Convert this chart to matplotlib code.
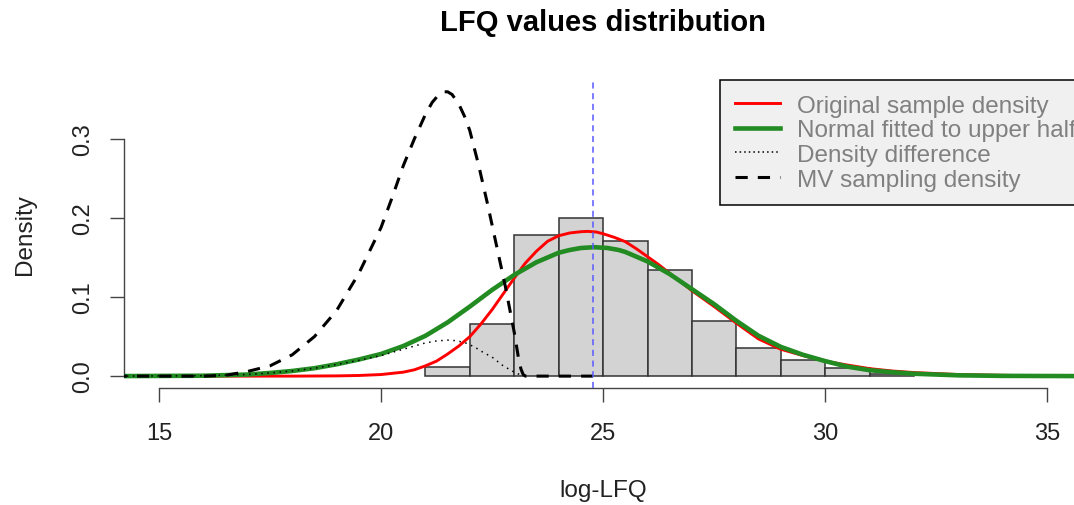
import matplotlib
matplotlib.use("Agg")
import matplotlib.pyplot as plt
from matplotlib.lines import Line2D

# Histogram of log-LFQ values (bins of width 1, density scale)
bin_left = [21, 22, 23, 24, 25, 26, 27, 28, 29, 30, 31]
bin_density = [0.011, 0.066, 0.1785, 0.200, 0.171, 0.134, 0.070, 0.035, 0.0206, 0.0102, 0.003]

# Original sample density (kernel estimate)
orig_x = [14.0, 18.0, 19.0, 19.5, 20.0, 20.5, 20.75, 21.0, 21.25, 21.5, 21.75, 22.0, 22.25, 22.5,
          22.75, 23.0, 23.25, 23.5, 23.75, 24.0, 24.25, 24.5, 24.65, 24.85, 25.0, 25.25, 25.5,
          25.75, 26.0, 26.25, 26.5, 27.0, 27.5, 28.0, 28.5, 29.0, 29.5, 30.0, 30.5, 31.0,
          31.5, 32.0, 33.0, 34.0, 35.0, 36.0]
orig_y = [0.0, 0.0, 0.0003, 0.0008, 0.002, 0.005, 0.008, 0.013, 0.019, 0.028, 0.038, 0.050, 0.066, 0.084,
          0.104, 0.124, 0.143, 0.158, 0.1705, 0.1775, 0.181, 0.1826, 0.183, 0.1822, 0.180, 0.1755, 0.170,
          0.161, 0.151, 0.141, 0.130, 0.108, 0.088, 0.067, 0.047, 0.034, 0.026, 0.019, 0.014, 0.0095,
          0.0065, 0.0045, 0.002, 0.001, 0.0003, 0.0]

# Normal fitted to the upper half
norm_x = [14.0, 16.0, 17.0, 17.5, 18.0, 18.5, 19.0, 19.5, 20.0, 20.5, 21.0, 21.5, 22.0, 22.5, 23.0,
          23.5, 24.0, 24.25, 24.5, 24.8, 25.1, 25.35, 25.5, 26.0, 26.5, 27.0, 27.5, 28.0, 28.5, 29.0,
          29.5, 30.0, 30.5, 31.0, 31.5, 32.0, 33.0, 34.0, 36.0]
norm_y = [0.0, 0.0005, 0.002, 0.004, 0.0065, 0.010, 0.015, 0.021, 0.028, 0.038, 0.051, 0.068, 0.088, 0.109, 0.128,
          0.144, 0.156, 0.1595, 0.162, 0.163, 0.162, 0.1595, 0.157, 0.145, 0.129, 0.110, 0.091, 0.070, 0.051, 0.037,
          0.027, 0.019, 0.012, 0.0075, 0.005, 0.003, 0.001, 0.0003, 0.0]

# Density difference (fitted normal minus sample density, positive part)
diff_x = [14.0, 16.0, 17.0, 17.5, 18.0, 18.5, 19.0, 19.5, 20.0, 20.5, 21.0, 21.25, 21.5, 21.7, 21.9,
          22.1, 22.3, 22.5, 22.75, 23.0, 23.2]
diff_y = [0.0, 0.0005, 0.002, 0.004, 0.0065, 0.010, 0.0147, 0.020, 0.026, 0.034, 0.042, 0.0445, 0.0455, 0.0448, 0.042,
          0.037, 0.030, 0.024, 0.013, 0.005, 0.0]

# MV sampling density
mv_x = [14.0, 16.0, 16.5, 17.0, 17.5, 18.0, 18.5, 19.0, 19.5, 20.0, 20.25, 20.5, 20.75, 21.0, 21.15,
        21.3, 21.4, 21.5, 21.6, 21.75, 21.9, 22.0, 22.2, 22.4, 22.6, 22.8, 23.0, 23.1, 23.15, 23.2,
        23.25, 24.77]
mv_y = [0.0, 0.0, 0.001, 0.006, 0.013, 0.027, 0.050, 0.083, 0.130, 0.188, 0.226, 0.266, 0.300, 0.331, 0.346,
        0.356, 0.3595, 0.3595, 0.356, 0.344, 0.326, 0.310, 0.266, 0.217, 0.165, 0.113, 0.055, 0.021, 0.009, 0.002,
        0.0, 0.0]

# Mean of the fitted normal (vertical line)
fit_mean = 24.77

x_ticks = [15, 20, 25, 30, 35]
y_ticks = [0.0, 0.1, 0.2, 0.3]
y_tick_labels = ["0.0", "0.1", "0.2", "0.3"]
legend_labels = ["Original sample density", "Normal fitted to upper half",
                 "Density difference", "MV sampling density"]


def draw_plot(output_path="out.png"):
    plt.rcParams["font.family"] = ["Liberation Sans", "DejaVu Sans"]
    fig = plt.figure(figsize=(10.74, 5.06), dpi=100)
    ax = fig.add_axes([0.1150, 0.2322, 0.8931, 0.6077])

    # Histogram
    ax.bar(bin_left, bin_density, width=1.0, align="edge", color="#d3d3d3",
           edgecolor="#333333", linewidth=1.1, zorder=1)

    # Curves
    ax.plot(orig_x, orig_y, color="red", lw=2.1, zorder=3)
    ax.plot(norm_x, norm_y, color="#228b22", lw=3.3, zorder=4)
    ax.plot(diff_x, diff_y, color="black", lw=1.1, dashes=(1, 3), zorder=5)
    ax.plot(mv_x, mv_y, color="black", lw=2.2, dashes=(4, 3.3), zorder=6)
    ax.axvline(fit_mean, color="#5a5aff", lw=1.1, dashes=(4, 3), zorder=7)

    ax.set_xlim(14.2, 35.8)
    ax.set_ylim(-0.0144, 0.3744)

    # R-style axes: only left and bottom, limited to tick range
    for side in ["top", "right"]:
        ax.spines[side].set_visible(False)
    ax.spines["left"].set_bounds(0.0, 0.3)
    ax.spines["bottom"].set_bounds(15, 35)
    for side in ["left", "bottom"]:
        ax.spines[side].set_color("#444444")
        ax.spines[side].set_linewidth(1.0)

    ax.set_xticks(x_ticks)
    ax.set_yticks(y_ticks)
    ax.set_yticklabels(y_tick_labels, rotation=90, va="center")
    ax.tick_params(axis="both", length=10, width=1.0, color="#444444",
                   labelcolor="#222222", labelsize=17)
    ax.tick_params(axis="x", pad=15)
    ax.tick_params(axis="y", pad=11)

    ax.set_xlabel("log-LFQ", fontsize=17.5, color="#222222", labelpad=25)
    ax.set_ylabel("Density", fontsize=17.5, color="#222222", labelpad=26)
    ax.set_title("LFQ values distribution", fontsize=21, fontweight="bold", pad=36)

    # Legend (box runs off the right edge, like the original)
    handles = [
        Line2D([], [], color="red", lw=2.1),
        Line2D([], [], color="#228b22", lw=3.3),
        Line2D([], [], color="black", lw=1.1, dashes=(1, 2)),
        Line2D([], [], color="black", lw=2.2, dashes=(4, 3.3)),
    ]
    leg = ax.legend(handles, legend_labels, loc="upper left", bbox_to_anchor=(0.6219, 1.0),
                    borderaxespad=0, fontsize=17.5, labelcolor="#808080",
                    handlelength=1.85, handletextpad=0.7, borderpad=0.6,
                    labelspacing=0.11, fancybox=False, framealpha=1,
                    facecolor="#f0f0f0", edgecolor="black")
    leg.get_frame().set_linewidth(1.1)
    leg.set_zorder(10)

    fig.savefig(output_path, dpi=100)


if __name__ == "__main__":
    draw_plot()
